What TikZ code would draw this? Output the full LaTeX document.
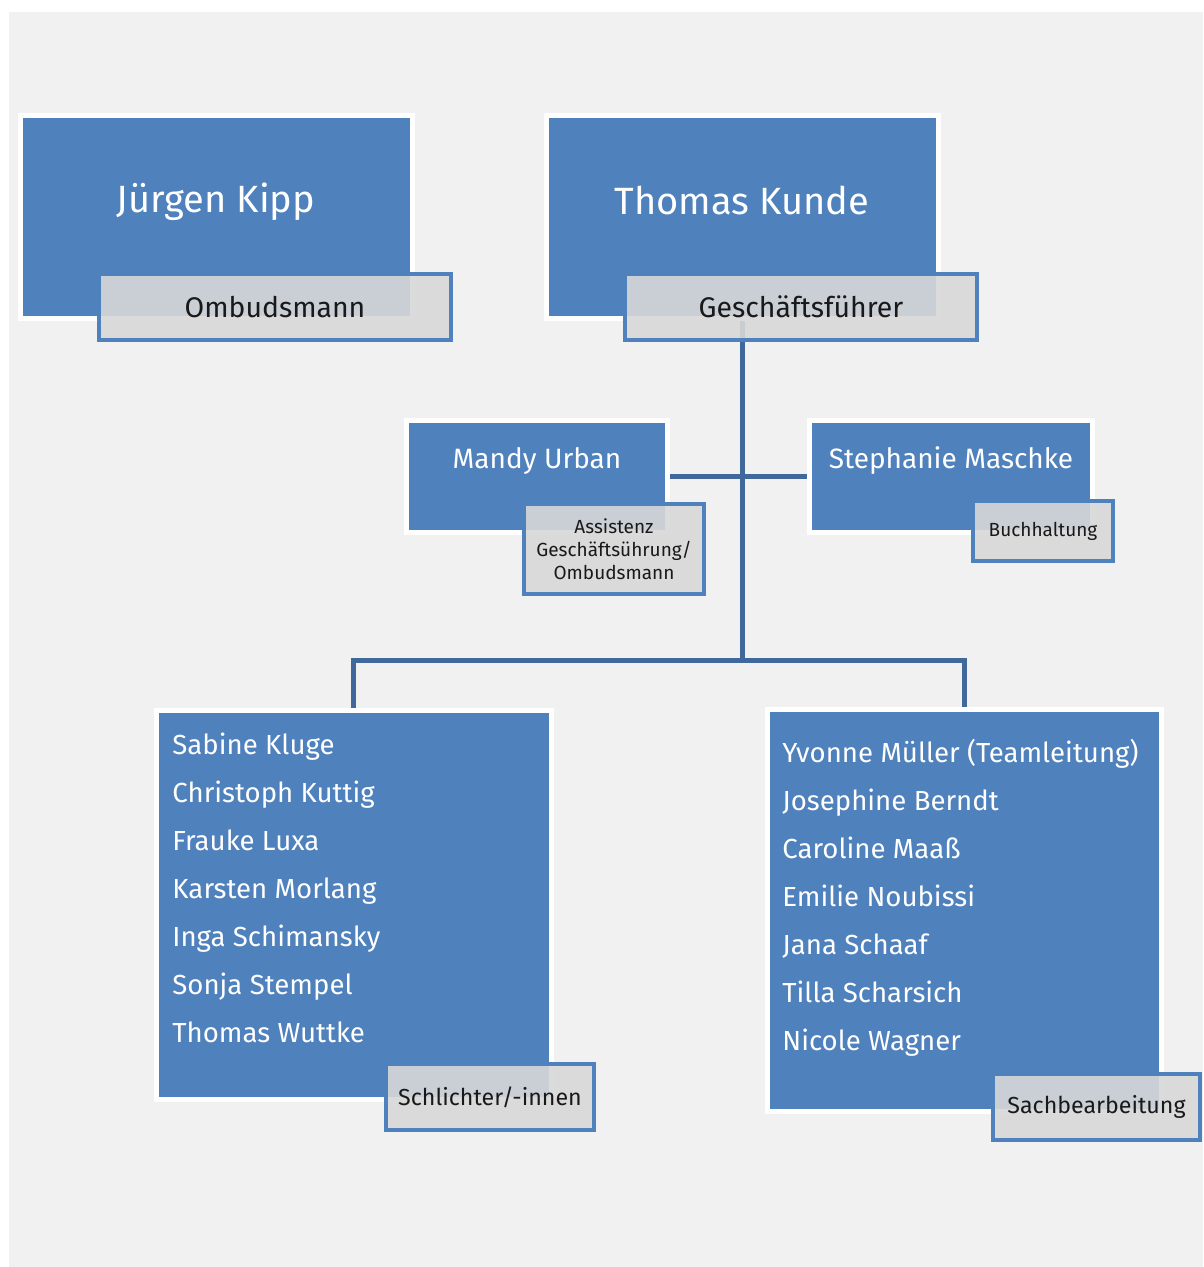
\documentclass[tikz,border=0pt]{standalone}
\usepackage{fontspec}
\setmainfont{Fira Sans}
\usepackage{xcolor}
\usepackage{tikz}
\usetikzlibrary{fit,positioning}

\definecolor{boxblue}{RGB}{79,129,189}
\definecolor{lineblue}{RGB}{65,104,154}
\definecolor{canvas}{RGB}{241,241,241}
\definecolor{rolegray}{RGB}{216,216,216}

\begin{document}
\begin{tikzpicture}[x=0.5pt,y=-0.5pt,
 person/.style={draw=white,fill=boxblue,line width=2.5pt,inner sep=0pt},
 role/.style={draw=boxblue,fill=rolegray,fill opacity=0.9,text opacity=1,
   line width=2pt,inner sep=0pt,text=black!90,align=center},
 conn/.style={draw=lineblue,line width=2.5pt},
 bigname/.style={text=white,font=\fontsize{19}{23}\selectfont},
 midname/.style={text=white,font=\fontsize{14}{17}\selectfont},
 namelist/.style={text=white,align=left,inner sep=0pt,
   font=\fontsize{13.8}{24}\selectfont}]
 \useasboundingbox (0,0) rectangle (1203,1267);
 \fill[canvas] (9,12) rectangle (1203,1267);

 % boxes
 \node[person,fit={(20.5,115.5) (412,318.5)}] (kipp) {};
 \node[person,fit={(546.5,115.5) (938.5,318.5)}] (kunde) {};
 \node[person,fit={(406.5,420.5) (667.5,532.5)}] (urban) {};
 \node[person,fit={(809.5,420.5) (1092.5,532.5)}] (maschke) {};
 \node[person,fit={(156.5,710.5) (551,1099)}] (schlichter) {};
 \node[person,fit={(767,709.5) (1161,1111)}] (sachbearb) {};

 % lines
 \coordinate (fork) at (742.5,660);
 \path[conn] (kunde.south) edge (fork)
  (urban.east) edge (maschke.west);
 \draw[conn] (fork) -| (schlichter.north);
 \draw[conn] (fork) -| (sachbearb.north);

 % names
 \node[bigname] (kippname) at (216,202) {Jürgen Kipp};
 \node[bigname] (kundename) at (742,200) {Thomas Kunde};
 \node[midname] (urbanname) at (537,461) {Mandy Urban};
 \node[midname] (maschkename) at (951,461) {Stephanie Maschke};
 \node[namelist,anchor=north west] (schlichterlist) at (172,733) {Sabine Kluge\\
  Christoph Kuttig\\ Frauke Luxa\\ Karsten Morlang\\ Inga Schimansky\\
  Sonja Stempel\\ Thomas Wuttke};
 \node[namelist,anchor=north west] (sachbearblist) at (782,739) {Yvonne Müller (Teamleitung)\\
  Josephine Berndt\\ Caroline Maaß\\ Emilie Noubissi\\ Jana Schaaf\\
  Tilla Scharsich\\ Nicole Wagner};

 % roles
 \node[role,minimum width=176pt,minimum height=33pt,font=\fontsize{14.2}{17}\selectfont]
  (ombuds) at (275,307) {Ombudsmann};
 \node[role,minimum width=176pt,minimum height=33pt,font=\fontsize{14.2}{17}\selectfont]
  (gf) at (801,307) {Geschäftsführer};
 \node[role,minimum width=90pt,minimum height=45pt,font=\fontsize{9.5}{11.5}\selectfont]
  (assist) at (614,549) {Assistenz\\ Geschäftsührung/\\ Ombudsmann};
 \node[role,minimum width=70pt,minimum height=30pt,font=\fontsize{9.5}{11.5}\selectfont]
  (buch) at (1043,531) {Buchhaltung};
 \node[role,minimum width=104pt,minimum height=33pt,font=\fontsize{11.6}{14}\selectfont]
  (schlrole) at (490,1097) {Schlichter/-innen};
 \node[role,minimum width=103.5pt,minimum height=33pt,font=\fontsize{11.6}{14}\selectfont]
  (sachrole) at (1096.5,1107) {Sachbearbeitung};
\end{tikzpicture}
\end{document}
